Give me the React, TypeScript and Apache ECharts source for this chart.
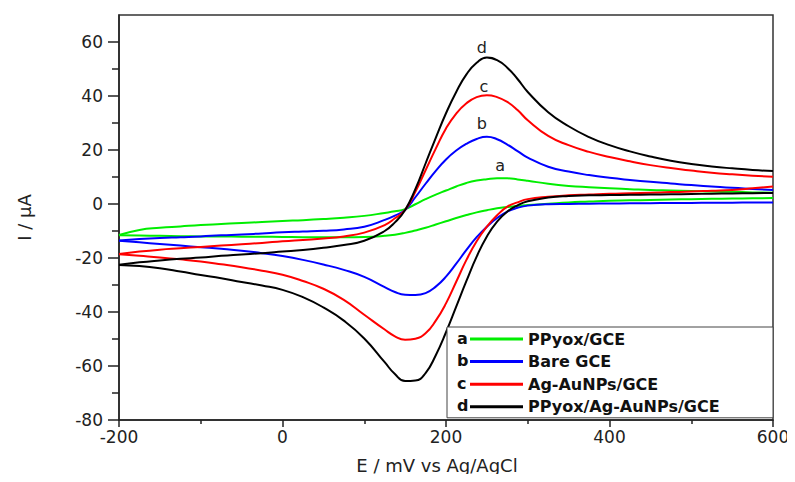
import React, { useEffect, useRef } from "react";
import * as echarts from "echarts";

// Potentials (mV vs Ag/AgCl); finer steps across the redox peaks
const E_FWD = [-200, -175, -150, -125, -100, -75, -50, -25, 0, 25, 50, 75, 100, 125, 137.5, 150, 162.5, 175, 187.5, 200, 212.5, 225, 237.5, 250, 262.5, 275, 287.5, 300, 325, 350, 375, 400, 425, 450, 475, 500, 525, 550, 575, 600];
const E_REV = [...E_FWD].reverse();

// a: PPyox/GCE (green), current in µA — forward scan (-200 -> 600)
const A_FWD = [-11.5, -9.6, -8.8, -8.3, -7.8, -7.4, -7.0, -6.7, -6.3, -6.0, -5.6, -5.1, -4.4, -3.3, -2.7, -1.9, -0.1, 1.8, 3.5, 5.0, 6.5, 7.8, 8.7, 9.2, 9.5, 9.5, 9.1, 8.6, 7.5, 6.7, 6.2, 5.8, 5.5, 5.2, 5.0, 4.8, 4.6, 4.5, 4.3, 4.2];
// reverse scan (600 -> -200)
const A_REV = [2.2, 2.1, 2.0, 1.9, 1.8, 1.65, 1.5, 1.35, 1.2, 0.9, 0.6, 0.1, -0.4, -0.7, -1.1, -1.6, -2.3, -3.1, -4.1, -5.2, -6.4, -7.6, -8.8, -9.8, -10.7, -11.4, -11.8, -12.2, -12.3, -12.3, -12.3, -12.2, -12.15, -12.1, -12.05, -12.0, -11.9, -11.8, -11.7, -11.6];

// b: Bare GCE (blue)
const B_FWD = [-13.5, -13.0, -12.6, -12.3, -12.0, -11.6, -11.3, -10.9, -10.5, -10.2, -9.9, -9.4, -8.4, -5.9, -4.3, -2.2, 2.5, 7.5, 12.3, 16.5, 19.8, 22.3, 24.1, 24.9, 24.0, 22.0, 19.6, 17.2, 13.8, 12.0, 10.7, 9.7, 8.9, 8.2, 7.6, 7.0, 6.5, 6.0, 5.6, 5.2];
const B_REV = [0.6, 0.55, 0.5, 0.45, 0.4, 0.35, 0.3, 0.25, 0.2, 0.1, 0.0, -0.1, -0.6, -1.4, -2.8, -5.2, -8.4, -12.3, -17.0, -22.1, -26.9, -30.6, -33.0, -33.7, -33.6, -32.6, -30.8, -27.0, -24.4, -22.4, -20.7, -19.3, -18.2, -17.3, -16.6, -16.0, -15.4, -14.8, -14.2, -13.6];

// c: Ag-AuNPs/GCE (red)
const C_FWD = [-18.5, -17.6, -16.9, -16.4, -15.9, -15.4, -14.9, -14.4, -13.8, -13.3, -12.8, -12.0, -10.6, -7.8, -5.3, -2.2, 4.5, 12.5, 20.5, 28.0, 33.5, 37.3, 39.6, 40.3, 39.6, 37.8, 34.8, 31.0, 25.2, 21.8, 19.3, 17.4, 15.8, 14.4, 13.3, 12.4, 11.6, 11.0, 10.5, 10.1];
const C_REV = [6.5, 5.8, 5.2, 4.9, 4.6, 4.4, 4.2, 4.0, 3.8, 3.5, 3.2, 2.7, 1.8, 0.6, -1.0, -4.2, -8.4, -13.8, -20.7, -28.8, -36.8, -43.2, -47.9, -49.9, -50.3, -49.0, -46.5, -41.0, -35.5, -31.4, -28.5, -26.2, -24.7, -23.4, -22.3, -21.3, -20.5, -19.8, -19.2, -18.6];

// d: PPyox/Ag-AuNPs/GCE (black)
const D_FWD = [-22.5, -21.6, -20.9, -20.3, -19.8, -19.2, -18.7, -18.2, -17.6, -17.0, -16.2, -15.2, -13.6, -10.0, -6.8, -2.2, 5.5, 15.0, 24.5, 33.6, 41.5, 48.0, 52.3, 54.3, 53.3, 50.5, 46.3, 41.5, 34.0, 28.8, 24.8, 21.8, 19.5, 17.6, 16.0, 14.8, 13.9, 13.2, 12.6, 12.2];
const D_REV = [4.1, 4.0, 3.9, 3.8, 3.7, 3.6, 3.5, 3.4, 3.3, 3.2, 3.0, 2.4, 1.0, -0.5, -2.8, -6.5, -12.0, -19.5, -28.5, -38.0, -47.5, -56.0, -62.6, -65.4, -65.6, -63.0, -58.6, -49.8, -43.2, -38.3, -34.5, -31.8, -30.2, -28.9, -27.5, -26.3, -25.0, -23.8, -23.0, -22.6];

const NAMES = ["PPyox/GCE", "Bare GCE", "Ag-AuNPs/GCE", "PPyox/Ag-AuNPs/GCE"];
const LETTERS = ["a", "b", "c", "d"];
const COLORS = ["#00ee00", "#0000ff", "#ff0000", "#000000"];
const FWD = [A_FWD, B_FWD, C_FWD, D_FWD];
const REV = [A_REV, B_REV, C_REV, D_REV];
const PEAK_LABEL_OFFSETS = [[3, -13], [-5, -13], [-3, -9], [-5, -10]];

const Y_MAJOR = [-80, -60, -40, -20, 0, 20, 40, 60];
const Y_MINOR = [-70, -50, -30, -10, 10, 30, 50];

const FONT = "'DejaVu Sans', 'Liberation Sans', sans-serif";

export default function App() {
  const ref = useRef<HTMLDivElement>(null);

  useEffect(() => {
    if (!ref.current) return;
    const chart = echarts.init(ref.current, null, { renderer: "svg" });

    const series: any[] = [];
    NAMES.forEach((name, i) => {
      const fwd = FWD[i];
      let pk = 0;
      fwd.forEach((v, k) => {
        if (v > fwd[pk]) pk = k;
      });
      const common = {
        name,
        type: "line",
        smooth: 0.5,
        showSymbol: false,
        symbol: "none",
        lineStyle: { color: COLORS[i], width: 2 },
        itemStyle: { color: COLORS[i] },
        z: 2 + i,
      };
      series.push({
        ...common,
        data: E_FWD.map((e, k) => [e, fwd[k]]),
        markPoint: {
          symbol: "circle",
          symbolSize: 0,
          data: [{ coord: [E_FWD[pk], fwd[pk]] }],
          label: {
            show: true,
            position: "inside",
            offset: PEAK_LABEL_OFFSETS[i],
            formatter: LETTERS[i],
            color: "#222",
            fontSize: 16,
            fontFamily: FONT,
          },
        },
      });
      series.push({
        ...common,
        data: E_REV.map((e, k) => [e, REV[i][k]]),
      });
    });

    const axisColor = "#222";

    chart.setOption({
      animation: false,
      backgroundColor: "#ffffff",
      grid: {
        left: 119,
        right: 22,
        top: 15,
        bottom: 62,
        show: true,
        borderColor: "#333",
        borderWidth: 1.5,
      },
      xAxis: {
        type: "value",
        min: -200,
        max: 600,
        interval: 200,
        axisLine: { show: true, onZero: false, lineStyle: { color: axisColor, width: 1.5 } },
        axisTick: { show: true, length: 7, lineStyle: { color: axisColor, width: 1.5 } },
        minorTick: { show: true, splitNumber: 2, length: 4, lineStyle: { color: axisColor, width: 1.5 } },
        splitLine: { show: false },
        minorSplitLine: { show: false },
        axisLabel: { color: axisColor, fontSize: 17, fontFamily: FONT, margin: 8 },
        name: "E / mV vs Ag/AgCl",
        nameLocation: "middle",
        nameGap: 36,
        nameTextStyle: { color: axisColor, fontSize: 18, fontFamily: FONT, padding: [0, 18, 0, 0] },
      },
      yAxis: [
        {
          type: "value",
          min: -80,
          max: 70,
          interval: 10,
          position: "left",
          axisLine: { show: true, onZero: false, lineStyle: { color: axisColor, width: 1.5 } },
          axisTick: { show: true, length: 11, customValues: Y_MAJOR, lineStyle: { color: axisColor, width: 1.5 } },
          splitLine: { show: false },
          axisLabel: { color: axisColor, fontSize: 17, fontFamily: FONT, margin: 16, customValues: Y_MAJOR },
          name: "I / \u03bcA",
          nameLocation: "middle",
          nameGap: 86,
          nameRotate: 90,
          nameTextStyle: { color: axisColor, fontSize: 18, fontFamily: FONT },
        },
        {
          type: "value",
          min: -80,
          max: 70,
          interval: 10,
          position: "left",
          axisLine: { show: false, onZero: false },
          axisTick: { show: true, length: 7, customValues: Y_MINOR, lineStyle: { color: axisColor, width: 1.5 } },
          splitLine: { show: false },
          axisLabel: { show: false },
        },
      ],
      legend: {
        orient: "vertical",
        left: 447,
        top: 327,
        padding: [4, 9, 3, 23],
        itemWidth: 53,
        itemHeight: 3,
        itemGap: 6.6,
        icon: "rect",
        borderColor: "#444",
        borderWidth: 1,
        backgroundColor: "#ffffff",
        z: 10,
        data: NAMES,
        textStyle: {
          fontFamily: FONT,
          fontWeight: "bold",
          fontSize: 16,
          color: "#111",
          width: 236,
          lineHeight: 15,
        },
      },
      graphic: LETTERS.map((l, i) => ({
        type: "text",
        x: 457,
        y: 338 + i * 22.6,
        z: 100,
        style: {
          text: l,
          fill: "#111",
          font: `bold 16px ${FONT}`,
          verticalAlign: "middle",
          textVerticalAlign: "middle",
        },
      })),
      series,
    });

    return () => chart.dispose();
  }, []);

  return <div ref={ref} style={{ width: 795, height: 482, margin: -8 }} />;
}
